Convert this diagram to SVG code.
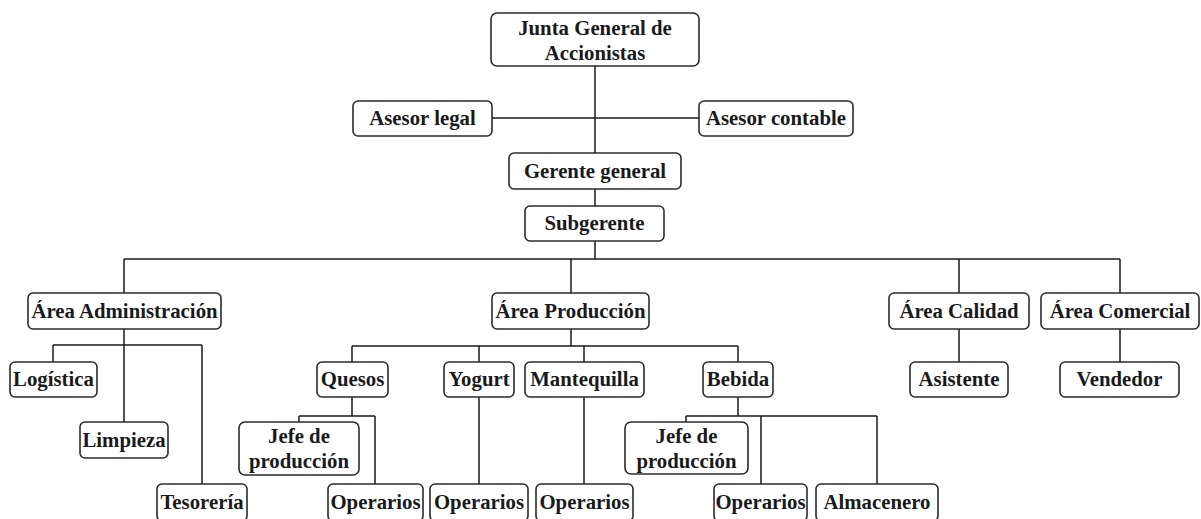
<svg xmlns="http://www.w3.org/2000/svg" width="1201" height="519" viewBox="0 0 1201 519">
<style>
.box{fill:#fff;stroke:#2b2b2b;stroke-width:1.6}
.t{font-family:"Liberation Serif","Times New Roman",serif;font-weight:bold;font-size:20.8px;fill:#1a1a1a;text-anchor:middle}
.c{fill:none;stroke:#1a1a1a;stroke-width:1.5}
</style>
<rect width="1201" height="519" fill="#fff"/>
<g id="connectors" class="c">
<path d="M595 66V153M492 118H699M595 189V206M595 241V259M124 259H1120M124 259V293M571 259V293M959 259V293M1120 259V293"/>
<path d="M124 329V422M53 345H202M53 345V362M202 345V484"/>
<path d="M571 329V346M352 346H738M352 346V362M479 346V362M584 346V362M738 346V362"/>
<path d="M352 397V416M299 416H375M299 416V422M375 416V484"/>
<path d="M479 397V484M584 397V484"/>
<path d="M738 397V416M686 416H877M686 416V422M761 416V484M877 416V484"/>
<path d="M959 329V362M1120 329V362"/>
</g>
<g id="junta"><rect class="box" x="491" y="13" width="208" height="53" rx="6"/><text class="t" x="595" y="35">Junta General de</text><text class="t" x="595" y="60">Accionistas</text></g>
<g id="asesor-legal"><rect class="box" x="353" y="101" width="139" height="35" rx="5"/><text class="t" x="422.5" y="125">Asesor legal</text></g>
<g id="asesor-contable"><rect class="box" x="699" y="101" width="154" height="35" rx="5"/><text class="t" x="776" y="125">Asesor contable</text></g>
<g id="gerente"><rect class="box" x="509" y="153" width="172" height="36" rx="5"/><text class="t" x="595" y="178">Gerente general</text></g>
<g id="subgerente"><rect class="box" x="525" y="206" width="139" height="35" rx="5"/><text class="t" x="594.5" y="230">Subgerente</text></g>
<g id="area-admin"><rect class="box" x="28" y="293" width="193" height="36" rx="5"/><text class="t" x="124.5" y="318">Área Administración</text></g>
<g id="area-prod"><rect class="box" x="492" y="293" width="157" height="36" rx="5"/><text class="t" x="570.5" y="318">Área Producción</text></g>
<g id="area-calidad"><rect class="box" x="889" y="293" width="140" height="36" rx="5"/><text class="t" x="959" y="318">Área Calidad</text></g>
<g id="area-comercial"><rect class="box" x="1041" y="293" width="158" height="36" rx="5"/><text class="t" x="1120" y="318">Área Comercial</text></g>
<g id="logistica"><rect class="box" x="10" y="362" width="87" height="35" rx="5"/><text class="t" x="53.5" y="386">Logística</text></g>
<g id="limpieza"><rect class="box" x="80" y="422" width="88" height="36" rx="5"/><text class="t" x="124" y="447">Limpieza</text></g>
<g id="tesoreria"><rect class="box" x="157" y="484" width="90" height="37" rx="5"/><text class="t" x="202" y="509">Tesorería</text></g>
<g id="quesos"><rect class="box" x="317" y="362" width="71" height="35" rx="5"/><text class="t" x="352.5" y="386">Quesos</text></g>
<g id="yogurt"><rect class="box" x="444" y="362" width="70" height="35" rx="5"/><text class="t" x="479" y="386">Yogurt</text></g>
<g id="mantequilla"><rect class="box" x="525" y="362" width="119" height="35" rx="5"/><text class="t" x="584.5" y="386">Mantequilla</text></g>
<g id="bebida"><rect class="box" x="703" y="362" width="70" height="35" rx="5"/><text class="t" x="738" y="386">Bebida</text></g>
<g id="jefe-quesos"><rect class="box" x="239" y="422" width="120" height="53" rx="6"/><text class="t" x="299" y="443">Jefe de</text><text class="t" x="299" y="468">producción</text></g>
<g id="operarios-quesos"><rect class="box" x="328" y="484" width="95" height="37" rx="5"/><text class="t" x="375.5" y="509">Operarios</text></g>
<g id="operarios-yogurt"><rect class="box" x="430" y="484" width="98" height="37" rx="5"/><text class="t" x="479" y="509">Operarios</text></g>
<g id="operarios-mantequilla"><rect class="box" x="536" y="484" width="97" height="37" rx="5"/><text class="t" x="584.5" y="509">Operarios</text></g>
<g id="jefe-bebida"><rect class="box" x="625" y="422" width="123" height="52" rx="6"/><text class="t" x="686.5" y="443">Jefe de</text><text class="t" x="686.5" y="468">producción</text></g>
<g id="operarios-bebida"><rect class="box" x="714" y="484" width="93" height="37" rx="5"/><text class="t" x="760.5" y="509">Operarios</text></g>
<g id="almacenero"><rect class="box" x="816" y="484" width="122" height="37" rx="5"/><text class="t" x="877" y="509">Almacenero</text></g>
<g id="asistente"><rect class="box" x="910" y="362" width="98" height="35" rx="5"/><text class="t" x="959" y="386">Asistente</text></g>
<g id="vendedor"><rect class="box" x="1060" y="362" width="119" height="35" rx="5"/><text class="t" x="1119.5" y="386">Vendedor</text></g>
</svg>
